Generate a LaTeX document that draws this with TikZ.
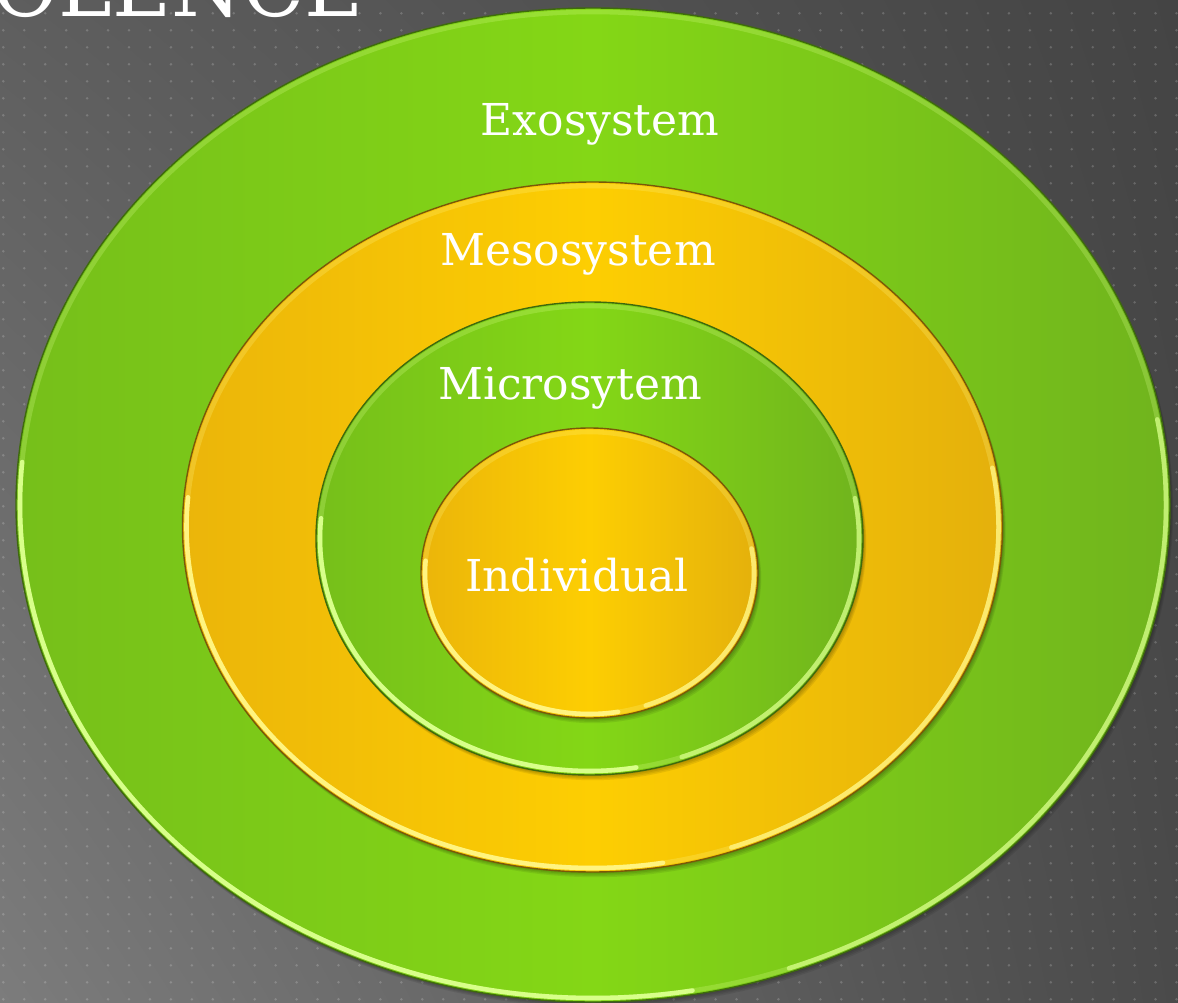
\documentclass[tikz,border=0pt]{standalone}
\usepackage{fontspec}
\usepackage{xcolor}
\newfontfamily\slabfont{DejaVu Serif}
\usepackage{tikz}
\usetikzlibrary{calc}
\usetikzlibrary{shadings}

\definecolor{bgUL}{HTML}{5E5E5E}
\definecolor{bgUR}{HTML}{444444}
\definecolor{bgLL}{HTML}{7C7C7C}
\definecolor{bgLR}{HTML}{4A4A4A}
\definecolor{grnL}{HTML}{76BF1A}
\definecolor{grnM}{HTML}{84D716}
\definecolor{grnR}{HTML}{70B41D}
\definecolor{grnLine}{HTML}{3E6A0C}
\definecolor{grnRim}{HTML}{D8FF8A}
\definecolor{yelL}{HTML}{EBB50A}
\definecolor{yelM}{HTML}{FDCE02}
\definecolor{yelR}{HTML}{E4B00C}
\definecolor{yelLine}{HTML}{7A5808}
\definecolor{yelRim}{HTML}{FFF480}

\begin{document}
\begin{tikzpicture}[x=0.01cm,y=-0.01cm,
    lbl/.style={text=white,font=\slabfont\fontsize{12.5}{15}\selectfont,anchor=base,inner sep=0pt},
    greenfill/.style={left color=grnL,right color=grnR,middle color=grnM,draw=grnLine,line width=0.4pt},
    yellowfill/.style={left color=yelL,right color=yelR,middle color=yelM,draw=yelLine,line width=0.4pt},
    greenrim/.style={draw=grnRim,line width=1.3pt,line cap=round},
    yellowrim/.style={draw=yelRim,line width=1.3pt,line cap=round},
    griddot/.style={white,opacity=0.18}]
            \useasboundingbox (0,0) rectangle (1178,1003);
            \clip (0,0) rectangle (1178,1003);
            % background
            \shade[upper left=bgUL,upper right=bgUR,lower left=bgLL,lower right=bgLR] (0,0) rectangle (1178,1003);
            \foreach \i in {0,...,56}
                \foreach \j in {0,...,58}
                    \fill[griddot] ({3.3+20.95*\i},{13.3+17*\j}) circle[radius=1.4];
            \node[text=white,font=\slabfont\fontsize{23}{27}\selectfont,anchor=base east,inner sep=0pt] (title) at (364,16) {IOLENCE};
            % centres
            \coordinate (exo) at (593,505);
            \coordinate (meso) at (592.5,527);
            \coordinate (micro) at (589.5,538.5);
            \coordinate (indiv) at (589.5,573);
            % exosystem
            \foreach \s in {1,...,4}
                \fill[black,opacity=0.08] ([shift={(0.8*\s,1.3*\s)}]exo) ellipse[x radius=577,y radius=497];
            \path[greenfill] (exo) ellipse[x radius=577,y radius=497];
            \draw[greenrim,opacity=0.25] (exo) ellipse[x radius=573,y radius=493];
            \draw[greenrim] ([shift={(80:573 and 493)}]exo) arc[start angle=80,end angle=185,x radius=573,y radius=493];
            \draw[greenrim,opacity=0.7] ([shift={(-10:573 and 493)}]exo) arc[start angle=-10,end angle=70,x radius=573,y radius=493];
            % mesosystem
            \foreach \s in {1,...,4}
                \fill[black,opacity=0.08] ([shift={(0.8*\s,1.3*\s)}]meso) ellipse[x radius=410,y radius=345];
            \path[yellowfill] (meso) ellipse[x radius=410,y radius=345];
            \draw[yellowrim,opacity=0.25] (meso) ellipse[x radius=406,y radius=341];
            \draw[yellowrim] ([shift={(80:406 and 341)}]meso) arc[start angle=80,end angle=185,x radius=406,y radius=341];
            \draw[yellowrim,opacity=0.8] ([shift={(-10:406 and 341)}]meso) arc[start angle=-10,end angle=70,x radius=406,y radius=341];
            % microsystem
            \foreach \s in {1,...,4}
                \fill[black,opacity=0.08] ([shift={(0.8*\s,1.3*\s)}]micro) ellipse[x radius=273.5,y radius=236.5];
            \path[greenfill] (micro) ellipse[x radius=273.5,y radius=236.5];
            \draw[greenrim,opacity=0.25] (micro) ellipse[x radius=269.5,y radius=232.5];
            \draw[greenrim] ([shift={(80:269.5 and 232.5)}]micro) arc[start angle=80,end angle=185,x radius=269.5,y radius=232.5];
            \draw[greenrim,opacity=0.7] ([shift={(-10:269.5 and 232.5)}]micro) arc[start angle=-10,end angle=70,x radius=269.5,y radius=232.5];
            % individual
            \foreach \s in {1,...,4}
                \fill[black,opacity=0.08] ([shift={(0.8*\s,1.3*\s)}]indiv) ellipse[x radius=168.5,y radius=145];
            \path[yellowfill] (indiv) ellipse[x radius=168.5,y radius=145];
            \draw[yellowrim,opacity=0.25] (indiv) ellipse[x radius=164.5,y radius=141];
            \draw[yellowrim] ([shift={(80:164.5 and 141)}]indiv) arc[start angle=80,end angle=185,x radius=164.5,y radius=141];
            \draw[yellowrim,opacity=0.8] ([shift={(-10:164.5 and 141)}]indiv) arc[start angle=-10,end angle=70,x radius=164.5,y radius=141];
            % labels
            \node[lbl] (exolbl) at (600,135) {Exosystem};
            \node[lbl] (mesolbl) at (578,265) {Mesosystem};
            \node[lbl] (microlbl) at (570,399) {Microsytem};
            \node[lbl] (indivlbl) at (577,591) {Individual};
        \end{tikzpicture}
\end{document}
